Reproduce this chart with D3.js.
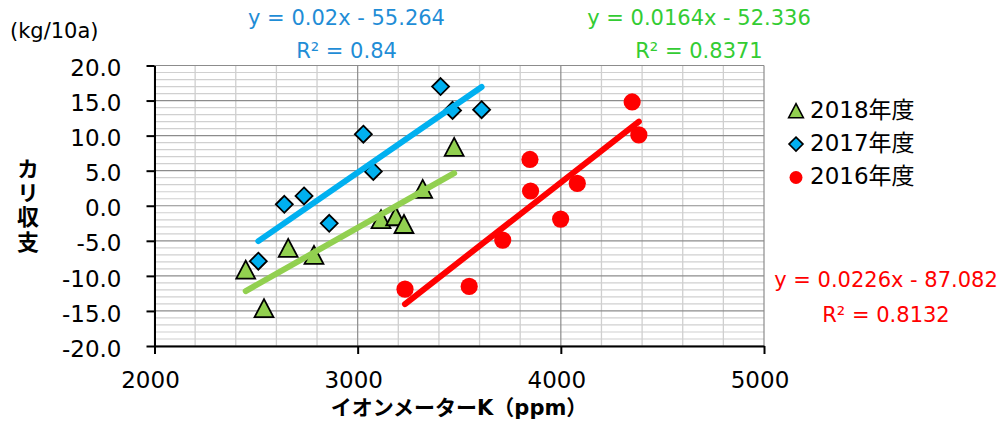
<!DOCTYPE html>
<html>
<head>
<meta charset="utf-8">
<script src="https://cdn.jsdelivr.net/npm/d3@7"></script>
<style>
  body { margin: 0; background: #fff; }
  svg { display: block; font-family: "DejaVu Sans", "Noto Sans CJK JP", sans-serif; }
</style>
</head>
<body>
<div id="chart"></div>
<script>
// series (legend order)
const seriesNames = ['2018年度', '2017年度', '2016年度'];
const seriesColors = ['#92D050', '#00B0F0', '#FF0000'];
const textColors = ['#33CC33', '#1F8DD6', '#FF0000'];

// イオンメーターK (ppm) and カリ収支 (kg/10a)
const k2018 = [2449, 2539, 2658, 2785, 3115, 3187, 3228, 3320, 3475];
const y2018 = [-9.1, -14.6, -6.0, -7.0, -1.9, -1.5, -2.6, 2.4, 8.4];
const k2017 = [2511, 2639, 2736, 2860, 3028, 3077, 3408, 3467, 3610];
const y2017 = [-7.9, 0.2, 1.4, -2.5, 10.2, 4.9, 17.0, 13.6, 13.7];
const k2016 = [3233, 3549, 3714, 3848, 3851, 3999, 4081, 4351, 4384];
const y2016 = [-11.9, -11.5, -4.9, 6.6, 2.1, -1.9, 3.2, 14.8, 10.1];

// trendlines as printed on the chart
const slopes = [0.0164, 0.02, 0.0226];
const intercepts = [-52.336, -55.264, -87.082];
const r2Labels = ['0.8371', '0.84', '0.8132'];

// axes
const xTicks = [2000, 3000, 4000, 5000];
const yTicks = [-20, -15, -10, -5, 0, 5, 10, 15, 20];

const W = 1002, H = 428;
const plot = { left: 154.5, right: 764, top: 65.5, bottom: 346 };

const svg = d3.select('#chart').append('svg')
  .attr('width', W).attr('height', H);

const x = d3.scaleLinear().domain([2000, 5000]).range([plot.left, plot.right]);
const y = d3.scaleLinear().domain([-20, 20]).range([plot.bottom, plot.top]);

// Grid
const grid = svg.append('g');
d3.range(-20, 20.01, 1).forEach(v => {
  if (Math.round(v) % 5 === 0) return;
  grid.append('line')
    .attr('x1', plot.left).attr('x2', plot.right)
    .attr('y1', y(v)).attr('y2', y(v))
    .attr('stroke', '#d0d0d0').attr('stroke-width', 1.2);
});
d3.range(2000, 5000.1, 200).forEach(v => {
  if (v % 1000 === 0) return;
  grid.append('line')
    .attr('x1', x(v)).attr('x2', x(v))
    .attr('y1', plot.top).attr('y2', plot.bottom)
    .attr('stroke', '#cfcfcf').attr('stroke-width', 1.3);
});
yTicks.forEach(v => {
  grid.append('line')
    .attr('x1', plot.left).attr('x2', plot.right)
    .attr('y1', y(v)).attr('y2', y(v))
    .attr('stroke', '#8c8c8c').attr('stroke-width', 1.2);
});
xTicks.forEach(v => {
  grid.append('line')
    .attr('x1', x(v)).attr('x2', x(v))
    .attr('y1', plot.top).attr('y2', plot.bottom)
    .attr('stroke', '#8c8c8c').attr('stroke-width', 1.2);
});

// Axes
const yAxis = d3.axisLeft(y).tickValues(yTicks).tickSize(8).tickSizeOuter(0).tickPadding(25)
  .tickFormat(d => d.toFixed(1));
const yAxisG = svg.append('g').attr('transform', `translate(${plot.left},0)`).call(yAxis);
yAxisG.selectAll('text').attr('dy', '0.44em').attr('font-size', 23).attr('fill', '#000')
  .style('font-family', '"DejaVu Sans", sans-serif');

const xAxis = d3.axisBottom(x).tickValues(xTicks).tickSize(8).tickSizeOuter(0)
  .tickFormat(d => d);
const xAxisG = svg.append('g').attr('transform', `translate(0,${plot.bottom})`).call(xAxis);
xAxisG.selectAll('text').attr('y', 42).attr('dy', 0).attr('dx', -4.5)
  .attr('font-size', 23).attr('fill', '#000')
  .style('font-family', '"DejaVu Sans", sans-serif');

[yAxisG, xAxisG].forEach(g => {
  g.select('.domain').attr('stroke', '#000').attr('stroke-width', 2);
  g.selectAll('.tick line').attr('stroke', '#000').attr('stroke-width', 2);
});

// Markers
const triangle = {
  draw(ctx, size) {
    const r = Math.sqrt(size) / 2;
    ctx.moveTo(0, -r);
    ctx.lineTo(r * 1.05, r);
    ctx.lineTo(-r * 1.05, r);
    ctx.closePath();
  }
};
const diamond = {
  draw(ctx, size) {
    const r = Math.sqrt(size) / 2;
    ctx.moveTo(0, -r);
    ctx.lineTo(r, 0);
    ctx.lineTo(0, r);
    ctx.lineTo(-r, 0);
    ctx.closePath();
  }
};
const symbolTypes = [triangle, diamond, d3.symbolCircle];
const symbolSizes = [18 * 18, 17 * 17, Math.PI * 8.6 * 8.6];
const legendSizes = [14 * 14, 14 * 14, Math.PI * 6.5 * 6.5];
const strokes = ['#000', '#000', 'none'];

const xs = [k2018, k2017, k2016];
const ys = [y2018, y2017, y2016];

const markers = svg.append('g');
[2, 1, 0].forEach(i => {
  xs[i].forEach((kv, j) => {
    markers.append('path')
      .attr('d', d3.symbol().type(symbolTypes[i]).size(symbolSizes[i])())
      .attr('transform', `translate(${x(kv)},${y(ys[i][j])})`)
      .attr('fill', seriesColors[i])
      .attr('stroke', strokes[i])
      .attr('stroke-width', 1.8)
      .attr('stroke-linejoin', 'miter');
  });
});

// Trendlines
const line = d3.line().x(d => x(d[0])).y(d => y(d[1]));
[2, 1, 0].forEach(i => {
  const ext = d3.extent(xs[i]);
  const pts = ext.map(kv => [kv, slopes[i] * kv + intercepts[i]]);
  svg.append('path')
    .attr('d', line(pts))
    .attr('fill', 'none')
    .attr('stroke', seriesColors[i])
    .attr('stroke-width', 6)
    .attr('stroke-linecap', 'round');
});

// Trendline labels
const labelPos = [
  { cx: 699, y1: 25, y2: 58.3 },
  { cx: 346.5, y1: 25, y2: 58.3 },
  { cx: 886, y1: 287.3, y2: 322.3 }
];
[0, 1, 2].forEach(i => {
  const eq = `y = ${slopes[i]}x - ${Math.abs(intercepts[i])}`;
  svg.append('text').attr('x', labelPos[i].cx).attr('y', labelPos[i].y1)
    .attr('text-anchor', 'middle').attr('font-size', 21).attr('fill', textColors[i])
    .text(eq);
  svg.append('text').attr('x', labelPos[i].cx).attr('y', labelPos[i].y2)
    .attr('text-anchor', 'middle').attr('font-size', 21).attr('fill', textColors[i])
    .text(`R² = ${r2Labels[i]}`);
});

// Legend
const legend = svg.append('g');
seriesNames.forEach((name, i) => {
  const ly = 110.7 + i * 33.4;
  legend.append('path')
    .attr('d', d3.symbol().type(symbolTypes[i]).size(legendSizes[i])())
    .attr('transform', `translate(796,${ly})`)
    .attr('fill', seriesColors[i])
    .attr('stroke', strokes[i])
    .attr('stroke-width', 1.6);
  legend.append('text')
    .attr('x', 810).attr('y', ly + 6.8)
    .attr('font-size', 23).attr('fill', '#000')
    .text(name);
});

// Titles
svg.append('text').attr('x', 10).attr('y', 38)
  .attr('font-size', 21).attr('fill', '#000').text('(kg/10a)');

svg.append('text').attr('x', 459).attr('y', 415)
  .attr('text-anchor', 'middle').attr('font-size', 21).attr('font-weight', 'bold')
  .style('font-family', '"DejaVu Sans", "Noto Sans CJK JP", sans-serif')
  .text('イオンメーターK（ppm）');

svg.append('text')
  .attr('x', 28).attr('y', 206)
  .attr('text-anchor', 'middle').attr('font-size', 22).attr('font-weight', 'bold')
  .style('font-family', '"Noto Sans CJK JP", sans-serif')
  .style('writing-mode', 'vertical-rl')
  .style('text-orientation', 'upright')
  .style('letter-spacing', '2.2px')
  .text('カリ収支');
</script>
</body>
</html>
